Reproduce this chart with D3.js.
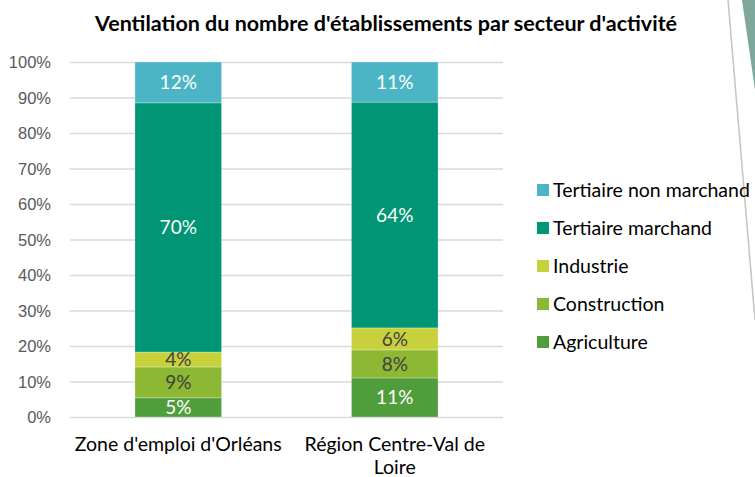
<!DOCTYPE html>
<html>
<head>
<meta charset="utf-8">
<script src="https://cdn.jsdelivr.net/npm/d3@7"></script>
<style>
  body { margin: 0; background: #fff; }
  svg { display: block; font-family: Lato, "Open Sans", sans-serif; }
</style>
</head>
<body>
<svg id="chart" width="755" height="477"></svg>
<script>
'use strict';

var categories = ["Zone d'emploi d'Orléans", "Région Centre-Val de Loire"];
var categoryLines = [["Zone d'emploi d'Orléans"], ["Région Centre-Val de", "Loire"]];
var sectors = ["Agriculture", "Construction", "Industrie", "Tertiaire marchand", "Tertiaire non marchand"];
var orleansValues = [5.4, 8.7, 4.2, 70.2, 11.5];
var regionValues = [11.0, 7.9, 6.2, 63.6, 11.3];
var sectorColors = ["#509e3b", "#8db833", "#c6d13b", "#009574", "#4bb5c6"];
var labelColors = ["#ffffff", "#404040", "#404040", "#ffffff", "#ffffff"];
var yTicks = [0, 10, 20, 30, 40, 50, 60, 70, 80, 90, 100];

var svg = d3.select("#chart");
var plotLeft = 70, plotRight = 503, plotTop = 62, plotBottom = 417;

var rows = categories.map(function (c, i) {
    var vals = i === 0 ? orleansValues : regionValues;
    var r = { category: c };
    sectors.forEach(function (s, j) { r[s] = vals[j]; });
    return r;
});

var x = d3.scaleBand().domain(categories).range([plotLeft, plotRight]).paddingInner(0.6).paddingOuter(0.3);
var y = d3.scaleLinear().domain([0, 100]).range([plotBottom, plotTop]);

// decoration at the right edge
svg.append("path")
    .attr("d", "M742,0 L755,0 L755,90 Z")
    .attr("fill", "#7fa89c");
svg.append("line")
    .attr("x1", 728).attr("y1", 0)
    .attr("x2", 755).attr("y2", 320)
    .attr("stroke", "#c4c4c4")
    .attr("stroke-width", 1.5);

// title
svg.append("text")
    .attr("x", 386)
    .attr("y", 31)
    .attr("text-anchor", "middle")
    .attr("font-size", 21.5)
    .attr("font-weight", "bold")
    .attr("fill", "#000")
    .text("Ventilation du nombre d'établissements par secteur d'activité");

// gridlines + y axis
var yAxis = d3.axisLeft(y)
    .tickValues(yTicks)
    .tickSize(-(plotRight - plotLeft))
    .tickPadding(19)
    .tickFormat(function (d) { return d + "%"; });

var gy = svg.append("g")
    .attr("transform", "translate(" + plotLeft + ",0)")
    .call(yAxis);
gy.select(".domain").remove();
gy.selectAll(".tick line").attr("stroke", "#d9d9d9").attr("stroke-width", 1.3);
gy.selectAll(".tick text")
    .attr("fill", "#595959")
    .attr("font-size", 16.5)
    .attr("dy", "0.35em");

// stacked bars
var stack = d3.stack().keys(sectors);
var series = stack(rows);

var layers = svg.selectAll(".layer")
    .data(series)
    .enter().append("g")
    .attr("class", "layer")
    .attr("fill", function (d, i) { return sectorColors[i]; });

layers.selectAll("rect")
    .data(function (d) { return d; })
    .enter().append("rect")
    .attr("x", function (d) { return x(d.data.category); })
    .attr("width", x.bandwidth())
    .attr("y", function (d) { return y(d[1]); })
    .attr("height", function (d) { return y(d[0]) - y(d[1]); })
    .attr("stroke", "#ffffff")
    .attr("stroke-opacity", 0.35)
    .attr("stroke-width", 0.8);

layers.each(function (s, i) {
    d3.select(this).selectAll("text")
        .data(s)
        .enter().append("text")
        .attr("x", function (d) { return x(d.data.category) + x.bandwidth() / 2; })
        .attr("y", function (d) { return (y(d[0]) + y(d[1])) / 2; })
        .attr("dy", "0.36em")
        .attr("text-anchor", "middle")
        .attr("font-size", 19)
        .attr("fill", labelColors[i])
        .text(function (d) { return Math.round(d[1] - d[0]) + "%"; });
});

// category labels
categories.forEach(function (c, i) {
    var t = svg.append("text")
        .attr("x", x(c) + x.bandwidth() / 2)
        .attr("y", 451)
        .attr("text-anchor", "middle")
        .attr("font-size", 19.5)
        .attr("fill", "#000");
    categoryLines[i].forEach(function (line, k) {
        t.append("tspan")
            .attr("x", x(c) + x.bandwidth() / 2)
            .attr("dy", k === 0 ? 0 : 23)
            .text(line);
    });
});

// legend, top entry is the last series
var legendOrder = sectors.slice().reverse();
var legend = svg.selectAll(".legend")
    .data(legendOrder)
    .enter().append("g")
    .attr("class", "legend")
    .attr("transform", function (d, i) { return "translate(537," + (190 + i * 38) + ")"; });

legend.append("rect")
    .attr("x", 0).attr("y", -6)
    .attr("width", 12).attr("height", 12)
    .attr("fill", function (d) { return sectorColors[sectors.indexOf(d)]; });

legend.append("text")
    .attr("x", 16)
    .attr("y", 0)
    .attr("dy", "0.36em")
    .attr("font-size", 19.5)
    .attr("fill", "#000")
    .text(function (d) { return d; });
</script>
</body>
</html>
